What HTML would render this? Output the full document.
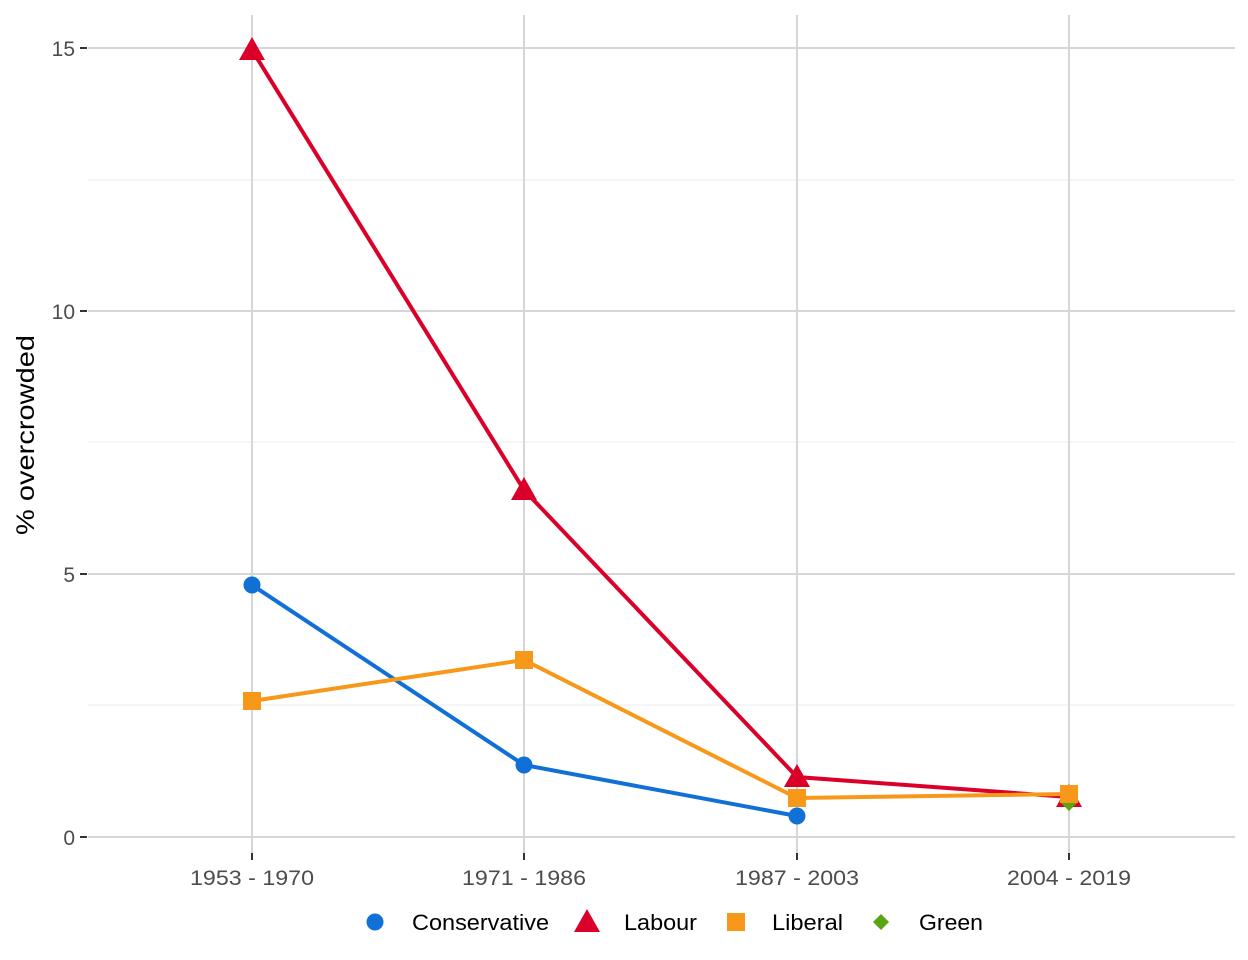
<!DOCTYPE html>
<html><head><style>body{margin:0;background:#fff}svg{display:block}text{font-family:"Liberation Sans",Arial,sans-serif}</style></head><body>
<svg width="1248" height="960" viewBox="0 0 1248 960">
<g stroke="#ebebeb" stroke-width="1">
<line x1="88" x2="1235" y1="180" y2="180"/><line x1="88" x2="1235" y1="442" y2="442"/><line x1="88" x2="1235" y1="705" y2="705"/>
</g>
<g stroke="#d6d6d6" stroke-width="2">
<line x1="88" x2="1235" y1="48" y2="48"/><line x1="88" x2="1235" y1="311" y2="311"/><line x1="88" x2="1235" y1="574" y2="574"/><line x1="88" x2="1235" y1="837" y2="837"/>
<line x1="252" x2="252" y1="15" y2="857"/><line x1="524" x2="524" y1="15" y2="857"/><line x1="797" x2="797" y1="15" y2="857"/><line x1="1069" x2="1069" y1="15" y2="857"/>
</g>
<g stroke="#333" stroke-width="2">
<line x1="80" x2="87" y1="48" y2="48"/><line x1="80" x2="87" y1="311" y2="311"/><line x1="80" x2="87" y1="574" y2="574"/><line x1="80" x2="87" y1="837" y2="837"/>
<line x1="252" x2="252" y1="853" y2="860"/><line x1="524" x2="524" y1="853" y2="860"/><line x1="797" x2="797" y1="853" y2="860"/><line x1="1069" x2="1069" y1="853" y2="860"/>
</g>
<g font-size="21" fill="#4d4d4d" text-anchor="end">
<text x="75" y="56">15</text><text x="75" y="319">10</text><text x="75" y="582">5</text><text x="75" y="845">0</text>
</g>
<g font-size="21" fill="#4d4d4d" text-anchor="middle" textLength="124">
<text x="252" y="885" textLength="124" lengthAdjust="spacingAndGlyphs">1953 - 1970</text><text x="524" y="885" textLength="124" lengthAdjust="spacingAndGlyphs">1971 - 1986</text><text x="797" y="885" textLength="124" lengthAdjust="spacingAndGlyphs">1987 - 2003</text><text x="1069" y="885" textLength="124" lengthAdjust="spacingAndGlyphs">2004 - 2019</text>
</g>
<text transform="translate(34,435) rotate(-90)" font-size="25" text-anchor="middle" fill="#000" textLength="200" lengthAdjust="spacingAndGlyphs">% overcrowded</text>
<polyline points="252,585 524,765 797,816" fill="none" stroke="#1170d6" stroke-width="4"/>
<g fill="#1170d6"><circle cx="252" cy="585" r="8.5"/><circle cx="524" cy="765" r="8.5"/><circle cx="797" cy="816" r="8.5"/></g>
<polyline points="252,50 524,490 797,777 1069,797" fill="none" stroke="#da0029" stroke-width="4"/>
<g fill="#da0029">
<polygon points="252,37 265,60 239,60"/><polygon points="524,477 537,500 511,500"/><polygon points="797,764 810,787 784,787"/><polygon points="1069,784 1082,807 1056,807"/>
</g>
<polygon points="1069,791 1079,801 1069,811 1059,801" fill="#5aa516"/>
<polyline points="252,701 524,660 797,798 1069,794" fill="none" stroke="#f7981a" stroke-width="4"/>
<g fill="#f7981a">
<rect x="243" y="692" width="18" height="18"/><rect x="515" y="651" width="18" height="18"/><rect x="788" y="789" width="18" height="18"/><rect x="1060" y="785" width="18" height="18"/>
</g>
<circle cx="375" cy="922" r="8.5" fill="#1170d6"/>
<text x="412" y="930" font-size="22" fill="#000" textLength="137" lengthAdjust="spacingAndGlyphs">Conservative</text>
<polygon points="587,909 600,932 574,932" fill="#da0029"/>
<text x="624" y="930" font-size="22" fill="#000" textLength="73" lengthAdjust="spacingAndGlyphs">Labour</text>
<rect x="727" y="913" width="18" height="18" fill="#f7981a"/>
<text x="772" y="930" font-size="22" fill="#000" textLength="71" lengthAdjust="spacingAndGlyphs">Liberal</text>
<polygon points="881,914 889,922 881,930 873,922" fill="#5aa516"/>
<text x="919" y="930" font-size="22" fill="#000" textLength="64" lengthAdjust="spacingAndGlyphs">Green</text>
</svg>
</body></html>
